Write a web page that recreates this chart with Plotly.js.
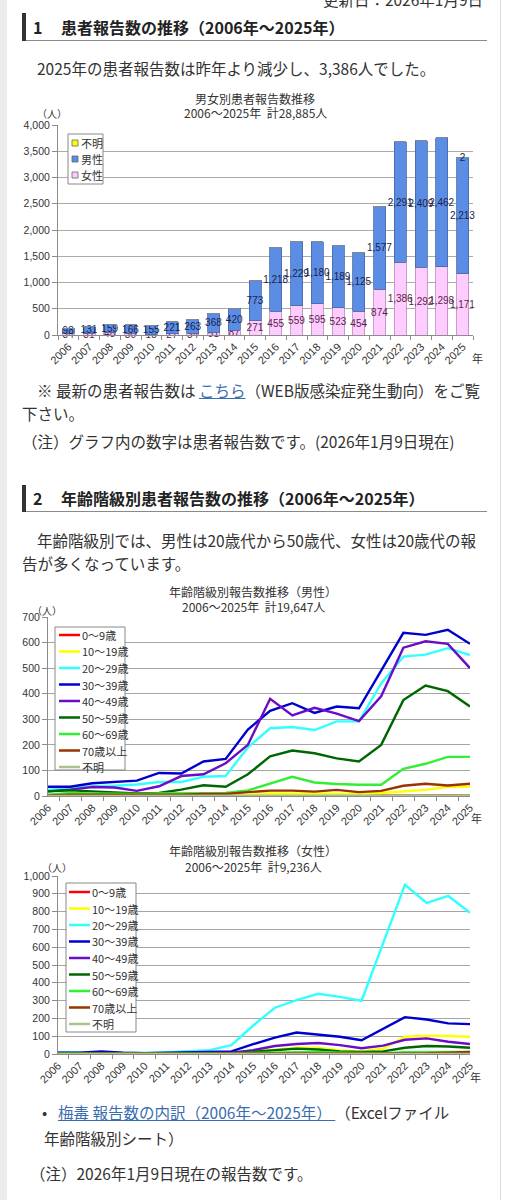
<!DOCTYPE html>
<html><head><meta charset="utf-8">
<script src="https://cdn.plot.ly/plotly-3.0.1.min.js"></script>
<style>
html,body{margin:0;padding:0;background:#fff;width:509px;height:1200px;overflow:hidden;font-family:"Noto Sans CJK JP","Noto Sans",sans-serif;color:#333;}
.abs{position:absolute;white-space:nowrap;}
#lstrip{position:absolute;left:0;top:0;width:7px;height:1200px;background:#ebebeb;}
#rline{position:absolute;left:500px;top:0;width:1px;height:1200px;background:#dcdcdc;}
.hbar{position:absolute;left:22px;width:4px;background:#333;}
.hline{position:absolute;left:26px;width:461px;height:1px;background:#8a8a8a;}
.h{font-size:16px;font-weight:bold;line-height:20px;color:#222;}
.p{font-size:15.5px;line-height:20px;}
a{color:#3a6db0;text-decoration:underline;}
.chart{position:absolute;left:0;width:500px;}
</style>
</head>
<body>
<div id="lstrip"></div>
<div id="rline"></div>

<div class="abs p" style="right:26px;top:-11px;">更新日：2026年1月9日</div>

<div class="hbar" style="top:13px;height:28px;"></div>
<div class="hline" style="top:40px;"></div>
<div class="abs h" style="left:33px;top:17px;">1</div>
<div class="abs h" style="left:61px;top:17px;">患者報告数の推移（2006年～2025年）</div>

<div class="abs p" style="left:37px;top:58px;">2025年の患者報告数は昨年より減少し、3,386人でした。</div>

<div id="c1" class="chart" style="top:85px;height:290px;"></div>

<div class="abs p" style="left:37px;top:380px;">※ 最新の患者報告数は <a>こちら</a>（WEB版感染症発生動向）をご覧</div>
<div class="abs p" style="left:22px;top:403px;">下さい。</div>
<div class="abs p" style="left:22px;top:431px;">（注）グラフ内の数字は患者報告数です。(2026年1月9日現在)</div>

<div class="hbar" style="top:485px;height:27px;"></div>
<div class="hline" style="top:511px;"></div>
<div class="abs h" style="left:33px;top:488px;">2</div>
<div class="abs h" style="left:61px;top:488px;">年齢階級別患者報告数の推移（2006年～2025年）</div>

<div class="abs p" style="left:37px;top:530px;">年齢階級別では、男性は20歳代から50歳代、女性は20歳代の報</div>
<div class="abs p" style="left:22px;top:553px;">告が多くなっています。</div>

<div id="c2" class="chart" style="top:580px;height:255px;"></div>
<div id="c3" class="chart" style="top:835px;height:255px;"></div>

<div class="abs p" style="left:42px;top:1102px;">•</div>
<div class="abs p" style="left:58px;top:1102px;"><a>梅毒 報告数の内訳（2006年～2025年） </a>（Excelファイル</div>
<div class="abs p" style="left:44px;top:1128px;">年齢階級別シート）</div>
<div class="abs p" style="left:30px;top:1163px;">（注）2026年1月9日現在の報告数です。</div>

<script>
// ---------- data ----------
const years = ['2006','2007','2008','2009','2010','2011','2012','2013','2014','2015','2016','2017','2018','2019','2020','2021','2022','2023','2024','2025'];

const femaleCounts  = [34,31,48,30,18,27,34,51,87,271,455,559,595,523,454,874,1386,1292,1298,1171];
const maleCounts    = [98,131,159,166,155,221,263,368,420,773,1218,1229,1180,1189,1125,1577,2291,2409,2462,2213];
const unknownCounts = [0,0,0,0,0,0,0,0,0,0,0,0,0,0,0,0,0,0,0,2];

const ageLabels = ['0～9歳','10～19歳','20～29歳','30～39歳','40～49歳','50～59歳','60～69歳','70歳以上','不明'];
const ageColors = ['#ff0000','#ffff00','#33ffff','#0000cc','#6a0dc8','#006600','#33ee33','#993300','#a8c48e'];

const male0_9   = [0,0,0,0,0,0,0,0,0,1,1,0,0,1,0,1,1,2,3,2];
const male10_19 = [1,2,2,1,2,1,2,3,3,5,10,10,9,10,8,12,17,24,36,37];
const male20_29 = [25,30,38,40,45,55,55,75,78,190,265,270,258,292,292,440,545,553,578,551];
const male30_39 = [36,36,50,55,60,90,88,135,145,260,333,363,325,350,343,490,638,630,650,595];
const male40_49 = [18,25,35,33,20,38,78,85,128,200,380,315,345,322,293,390,580,605,595,500];
const male50_59 = [18,22,18,15,10,12,25,42,36,85,155,178,167,147,135,200,375,432,410,350];
const male60_69 = [5,12,10,8,8,10,10,12,12,22,48,75,53,47,44,44,106,126,153,153];
const male70up  = [2,5,5,5,5,5,5,8,8,15,21,21,17,24,15,20,40,48,41,48];
const maleUnk   = [0,0,0,0,0,0,0,0,0,0,0,0,0,0,0,0,0,1,0,2];

const female0_9   = [0,0,0,0,0,0,0,0,0,0,2,1,2,2,1,0,2,1,2,1];
const female10_19 = [3,3,2,2,1,2,2,3,4,12,25,35,35,20,15,30,97,103,101,97];
const female20_29 = [10,8,10,8,6,10,14,22,50,160,260,303,338,321,299,630,951,849,888,793];
const female30_39 = [8,8,15,7,4,6,8,12,15,55,92,121,107,97,77,144,207,194,172,168];
const female40_49 = [5,5,8,5,3,4,4,6,8,22,45,56,62,50,32,47,80,88,69,56];
const female50_59 = [4,3,6,4,2,2,3,4,5,12,20,30,25,15,12,15,35,45,42,35];
const female60_69 = [2,2,4,2,1,2,2,2,3,6,8,10,12,8,6,5,10,12,12,12];
const female70up  = [2,2,3,2,1,1,1,2,2,4,3,3,5,4,3,3,5,5,8,12];
const femaleUnk   = [0,0,0,0,0,0,0,0,0,0,0,0,0,0,0,0,0,0,0,0];

const maleSeries   = [male0_9,male10_19,male20_29,male30_39,male40_49,male50_59,male60_69,male70up,maleUnk];
const femaleSeries = [female0_9,female10_19,female20_29,female30_39,female40_49,female50_59,female60_69,female70up,femaleUnk];

// ---------- helpers ----------
const FONT = 'Liberation Sans, Noto Sans CJK JP, sans-serif';
const JFONT = 'Noto Sans CJK JP, sans-serif';
function fmt(v){ return v > 0 ? v.toLocaleString('en-US') : ''; }
function conv(L){
  const pw = L.width - L.margin.l - L.margin.r;
  const ph = L.height - L.margin.t - L.margin.b;
  return {
    X: px => (px - L.margin.l) / pw,
    Y: py => 1 - (py - L.margin.t) / ph
  };
}
function txt(c, x, y, text, size, anchor){
  return {xref:'paper', yref:'paper', x:c.X(x), y:c.Y(y), text:text, showarrow:false,
          xanchor: anchor || 'center', yanchor:'middle', font:{family:JFONT, size:size, color:'#333'}};
}
function axisBase(){
  return {showline:true, linecolor:'#8c8c8c', linewidth:1, ticks:'outside', ticklen:4, tickcolor:'#8c8c8c',
          tickfont:{size:11, color:'#333'}, fixedrange:true};
}

// ---------- chart 1 : stacked bars ----------
(function(){
  const L = {width:500, height:290, margin:{l:58, r:27, t:40, b:40}};
  const c = conv(L);
  const common = {type:'bar', x:years, textposition:'inside', insidetextanchor:'middle', textangle:0,
                  constraintext:'none', cliponaxis:false, hoverinfo:'none'};
  const traces = [
    Object.assign({}, common, {name:'女性', y:femaleCounts, text:femaleCounts.map(fmt),
      marker:{color:'#ffccff', line:{color:'#b58ab5', width:0.8}}, textfont:{family:FONT, size:10, color:'#5a1f4a'}}),
    Object.assign({}, common, {name:'男性', y:maleCounts, text:maleCounts.map(fmt),
      marker:{color:'#5b8de5', line:{color:'#4868a6', width:0.8}}, textfont:{family:FONT, size:10, color:'#1a1f4d'}}),
    Object.assign({}, common, {name:'不明', y:unknownCounts, text:unknownCounts.map(fmt),
      marker:{color:'#ffff00', line:{color:'#888', width:0.8}}, textfont:{family:FONT, size:10, color:'#1a1f4d'}})
  ];
  const legendItems = [{n:'不明', col:'#ffff00'}, {n:'男性', col:'#5b8de5'}, {n:'女性', col:'#ffccff'}];
  const shapes = [{type:'rect', xref:'paper', yref:'paper', x0:c.X(68), x1:c.X(103), y0:c.Y(49), y1:c.Y(99),
                   fillcolor:'#fff', line:{color:'#888', width:1}}];
  const ann = [
    txt(c, 255, 13, '男女別患者報告数推移', 12),
    txt(c, 255, 28, '2006～2025年&nbsp;&nbsp;計28,885人', 12),
    txt(c, 52, 29, '（人）', 10),
    txt(c, 477, 273, '年', 11)
  ];
  legendItems.forEach((it, i) => {
    const yy = 58 + i * 16;
    shapes.push({type:'rect', xref:'paper', yref:'paper', x0:c.X(72), x1:c.X(78), y0:c.Y(yy-3), y1:c.Y(yy+3),
                 fillcolor:it.col, line:{color:'#666', width:0.8}});
    ann.push(txt(c, 79, yy, it.n, 11, 'left'));
  });
  const layout = Object.assign(L, {
    barmode:'stack', bargap:0.42, showlegend:false,
    paper_bgcolor:'rgba(0,0,0,0)', plot_bgcolor:'rgba(0,0,0,0)',
    font:{family:FONT, size:10, color:'#333'},
    xaxis:Object.assign(axisBase(), {type:'category', tickangle:-45, showgrid:false, tickson:'boundaries'}),
    yaxis:Object.assign(axisBase(), {range:[0,4000], dtick:500, tickformat:',d', ticklen:5,
           tickfont:{size:10.5, color:'#333'},
           showgrid:true, gridcolor:'#ababab', gridwidth:1, zeroline:false}),
    shapes:shapes, annotations:ann
  });
  Plotly.newPlot('c1', traces, layout, {staticPlot:true, displayModeBar:false});
})();

// ---------- line charts ----------
function lineChart(div, series, L, cfg){
  const c = conv(L);
  const traces = series.map((s, i) => ({
    type:'scatter', mode:'lines', x:years, y:s, name:ageLabels[i],
    line:{color:ageColors[i], width:2.4}, hoverinfo:'none'
  }));
  const b = cfg.box;
  const shapes = [{type:'rect', xref:'paper', yref:'paper', x0:c.X(b.x0), x1:c.X(b.x1), y0:c.Y(b.y0), y1:c.Y(b.y1),
                   fillcolor:'#fff', line:{color:'#888', width:1}}];
  const ann = [
    txt(c, 253, cfg.t1, cfg.title1, 12),
    txt(c, 253, cfg.t2, cfg.title2, 12),
    txt(c, cfg.unitX, cfg.unitY, '（人）', 10),
    txt(c, cfg.yearX, cfg.yearY, '年', 11)
  ];
  ageLabels.forEach((n, i) => {
    const yy = cfg.itemY0 + i * 16.5;
    shapes.push({type:'line', xref:'paper', yref:'paper', x0:c.X(cfg.lx0), x1:c.X(cfg.lx1), y0:c.Y(yy), y1:c.Y(yy),
                 line:{color:ageColors[i], width:2.5}});
    ann.push(txt(c, cfg.lx1, yy, n, 11, 'left'));
  });
  const layout = Object.assign(L, {
    showlegend:false,
    paper_bgcolor:'rgba(0,0,0,0)', plot_bgcolor:'rgba(0,0,0,0)',
    font:{family:FONT, size:10, color:'#333'},
    xaxis:Object.assign(axisBase(), {type:'category', tickangle:-45, showgrid:false, tickson:'boundaries'}),
    yaxis:Object.assign(axisBase(), {range:[0, cfg.ymax], dtick:100, tickformat:',d', ticklen:5,
           tickfont:{size:10.5, color:'#333'},
           showgrid:true, gridcolor:'#a5a5a5', gridwidth:1, zeroline:false}),
    shapes:shapes, annotations:ann
  });
  Plotly.newPlot(div, traces, layout, {staticPlot:true, displayModeBar:false});
}

lineChart('c2', maleSeries, {width:500, height:255, margin:{l:48, r:30, t:37, b:39}}, {
  ymax:700, title1:'年齢階級別報告数推移（男性）', title2:'2006～2025年&nbsp;&nbsp;計19,647人',
  t1:11, t2:27, unitX:47, unitY:30, yearX:476, yearY:238,
  box:{x0:55, x1:125, y0:47, y1:190}, itemY0:55, lx0:59, lx1:80
});

lineChart('c3', femaleSeries, {width:500, height:255, margin:{l:58, r:30, t:41, b:36}}, {
  ymax:1000, title1:'年齢階級別報告数推移（女性）', title2:'2006～2025年&nbsp;&nbsp;計9,236人',
  t1:15, t2:31, unitX:57, unitY:32, yearX:475, yearY:242,
  box:{x0:66, x1:136, y0:48, y1:197}, itemY0:57, lx0:69, lx1:90
});
</script>
</body></html>
